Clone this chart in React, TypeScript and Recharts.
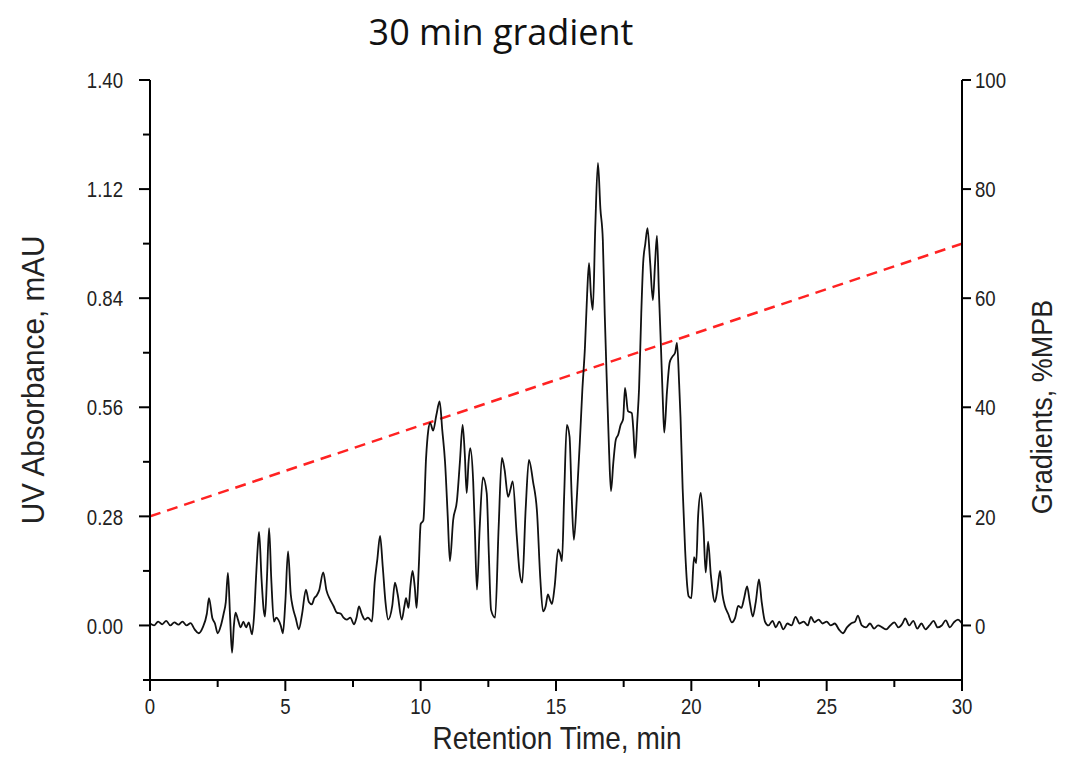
import React from 'react';
import { ComposedChart, Line, XAxis, YAxis } from 'recharts';

// chromatogram (retention time in min, absorbance in mAU)
const uvTime = [
  0.0, 0.15, 0.3, 0.45, 0.6, 0.75, 0.9, 1.05, 1.2, 1.35, 1.5, 1.65, 1.8, 1.95, 2.1, 2.18, 2.3, 2.4, 2.5, 2.62,
  2.72, 2.8, 2.88, 2.96, 3.03, 3.1, 3.16, 3.25, 3.35, 3.45, 3.55, 3.65, 3.77, 3.85, 3.92, 3.98, 4.03, 4.12, 4.2, 4.25,
  4.32, 4.4, 4.48, 4.58, 4.66, 4.74, 4.83, 4.91, 5.0, 5.1, 5.2, 5.28, 5.38, 5.5, 5.62, 5.76, 5.87, 5.98, 6.07, 6.16,
  6.25, 6.4, 6.52, 6.65, 6.78, 6.9, 7.05, 7.15, 7.27, 7.4, 7.54, 7.63, 7.72, 7.82, 7.94, 8.05, 8.2, 8.3, 8.4, 8.5,
  8.6, 8.7, 8.8, 8.95, 9.05, 9.15, 9.3, 9.4, 9.46, 9.55, 9.62, 9.7, 9.78, 9.85, 9.93, 10.0, 10.1, 10.2, 10.28, 10.35,
  10.46, 10.58, 10.7, 10.8, 10.9, 11.0, 11.08, 11.2, 11.34, 11.45, 11.55, 11.63, 11.7, 11.77, 11.83, 11.94, 12.0, 12.08, 12.18, 12.3,
  12.44, 12.52, 12.6, 12.75, 12.88, 13.0, 13.1, 13.23, 13.32, 13.4, 13.55, 13.65, 13.75, 13.88, 14.0, 14.15, 14.3, 14.42, 14.52, 14.62,
  14.7, 14.78, 14.85, 14.95, 15.08, 15.15, 15.22, 15.3, 15.4, 15.5, 15.58, 15.66, 15.78, 15.88, 15.97, 16.07, 16.15, 16.22, 16.29, 16.36,
  16.45, 16.55, 16.64, 16.73, 16.8, 16.88, 16.96, 17.03, 17.12, 17.21, 17.3, 17.39, 17.48, 17.55, 17.66, 17.8, 17.86, 17.92, 18.0, 18.07,
  18.15, 18.22, 18.3, 18.38, 18.48, 18.58, 18.66, 18.73, 18.8, 18.88, 18.95, 19.0, 19.1, 19.2, 19.3, 19.4, 19.47, 19.55, 19.6, 19.68,
  19.77, 19.85, 19.9, 20.0, 20.1, 20.18, 20.25, 20.35, 20.45, 20.53, 20.62, 20.72, 20.87, 20.96, 21.06, 21.15, 21.24, 21.36, 21.5, 21.62,
  21.73, 21.85, 21.95, 22.06, 22.16, 22.27, 22.38, 22.5, 22.6, 22.72, 22.85, 23.0, 23.12, 23.25, 23.4, 23.55, 23.7, 23.85, 24.0, 24.15,
  24.3, 24.42, 24.55, 24.7, 24.85, 25.0, 25.15, 25.3, 25.45, 25.6, 25.75, 25.9, 26.05, 26.15, 26.3, 26.45, 26.6, 26.75, 26.9, 27.05,
  27.2, 27.35, 27.5, 27.65, 27.8, 27.9, 28.05, 28.2, 28.35, 28.5, 28.65, 28.8, 28.95, 29.1, 29.25, 29.4, 29.55, 29.7, 29.85, 30.0,
];
const uvAbs = [
  0.005, 0.0, 0.01, 0.003, 0.012, 0.0, 0.008, 0.002, 0.01, 0.0, 0.006, -0.01, -0.02, -0.005, 0.03, 0.07, 0.02, 0.005, -0.02, 0.0,
  0.03, 0.06, 0.135, 0.02, -0.07, 0.0, 0.033, 0.015, -0.005, 0.01, -0.005, 0.008, -0.023, 0.03, 0.126, 0.2, 0.24, 0.12, 0.04, 0.023,
  0.12, 0.25, 0.12, 0.01, 0.02, 0.015, 0.0, -0.02, 0.06, 0.19, 0.08, 0.045, 0.02, -0.01, 0.03, 0.092, 0.06, 0.054, 0.07, 0.077,
  0.09, 0.136, 0.09, 0.067, 0.05, 0.033, 0.03, 0.02, 0.015, 0.02, 0.003, 0.02, 0.049, 0.03, 0.015, 0.02, 0.01, 0.11, 0.17, 0.23,
  0.15, 0.06, 0.015, 0.05, 0.11, 0.08, 0.015, 0.05, 0.07, 0.045, 0.1, 0.14, 0.1, 0.045, 0.15, 0.26, 0.27, 0.43, 0.5, 0.52,
  0.5, 0.54, 0.575, 0.5, 0.42, 0.28, 0.165, 0.27, 0.32, 0.42, 0.515, 0.44, 0.34, 0.42, 0.455, 0.37, 0.25, 0.092, 0.25, 0.38,
  0.34, 0.18, 0.04, 0.02, 0.25, 0.43, 0.4, 0.33, 0.35, 0.37, 0.23, 0.14, 0.11, 0.3, 0.425, 0.37, 0.29, 0.12, 0.036, 0.05,
  0.08, 0.065, 0.055, 0.1, 0.195, 0.185, 0.165, 0.33, 0.515, 0.485, 0.33, 0.22, 0.34, 0.47, 0.6, 0.715, 0.85, 0.93, 0.85, 0.81,
  1.02, 1.187, 1.07, 0.99, 0.8, 0.62, 0.45, 0.345, 0.42, 0.477, 0.49, 0.515, 0.53, 0.61, 0.55, 0.545, 0.5, 0.43, 0.52, 0.61,
  0.8, 0.93, 0.98, 1.02, 0.93, 0.835, 0.93, 1.0, 0.86, 0.71, 0.57, 0.495, 0.6, 0.675, 0.69, 0.7, 0.725, 0.62, 0.535, 0.35,
  0.195, 0.1, 0.075, 0.07, 0.175, 0.16, 0.28, 0.34, 0.25, 0.136, 0.215, 0.13, 0.06, 0.09, 0.14, 0.08, 0.05, 0.03, 0.008, 0.02,
  0.05, 0.045, 0.07, 0.1, 0.06, 0.023, 0.06, 0.118, 0.06, 0.01, 0.0, 0.012, -0.005, 0.01, -0.01, 0.005, 0.0, 0.022, 0.005, 0.01,
  0.0, 0.022, 0.008, 0.015, 0.005, 0.01, 0.0, 0.005, -0.01, -0.02, -0.005, 0.005, 0.01, 0.025, 0.0, -0.005, 0.005, -0.008, 0.0, -0.005,
  -0.01, 0.0, 0.008, -0.005, 0.005, 0.018, 0.0, 0.012, -0.008, 0.005, -0.01, 0.0, 0.012, -0.005, 0.0, 0.013, -0.005, 0.008, 0.015, 0.005,
];

// linear gradient program (%MPB)
const gradTime = [0, 30];
const gradPct = [20, 70];

const timeTicks = [0, 2.5, 5, 7.5, 10, 12.5, 15, 17.5, 20, 22.5, 25, 27.5, 30];
const uvTicks = [-0.14, 0, 0.14, 0.28, 0.42, 0.56, 0.7, 0.84, 0.98, 1.12, 1.26, 1.4];
const pctTicks = [0, 20, 40, 60, 80, 100];

const uvData = uvTime.map((t, i) => ({ t, uv: uvAbs[i] }));
const gradData = gradTime.map((t, i) => ({ t, pct: gradPct[i] }));

const tickFont = { fontFamily: '"Liberation Sans", Arial, sans-serif', fontSize: 19, fill: '#222' };

// tick text is drawn a little taller than wide, like the source figure
const TickText = ({ x, y, anchor, children }: any) => (
  <text
    transform={`translate(${x},${y}) scale(0.98,1.2)`}
    textAnchor={anchor}
    dominantBaseline="central"
    {...tickFont}
  >
    {children}
  </text>
);

const LeftTick = ({ x, y, payload, index }: any) => {
  const major = index % 2 === 1;
  return (
    <g>
      <line x1={x} x2={x - (major ? 11 : 7)} y1={y} y2={y} stroke="#000" strokeWidth={2} />
      {major && <TickText x={x - 27} y={y} anchor="end">{payload.value.toFixed(2)}</TickText>}
    </g>
  );
};

const RightTick = ({ x, y, payload }: any) => (
  <g>
    <line x1={x} x2={x + 9} y1={y} y2={y} stroke="#000" strokeWidth={2} />
    <TickText x={x + 13} y={y} anchor="start">{payload.value}</TickText>
  </g>
);

const BottomTick = ({ x, y, payload, index }: any) => {
  const major = index % 2 === 0;
  return (
    <g>
      <line x1={x} x2={x} y1={y} y2={y + (major ? 11 : 7)} stroke="#000" strokeWidth={2} />
      {major && <TickText x={x} y={y + 26} anchor="middle">{payload.value}</TickText>}
    </g>
  );
};

const labelFont = { fontFamily: '"Liberation Sans", Arial, sans-serif', color: '#222', whiteSpace: 'nowrap' as const };

export default function App() {
  return (
    <div style={{ position: 'absolute', left: 0, top: 0, width: 1065, height: 770, background: '#fff' }}>
      <div
        style={{
          position: 'absolute', left: 501, top: 31, transform: 'translate(-50%, -50%)',
          fontFamily: '"Open Sans", sans-serif', fontSize: 36, color: '#111', whiteSpace: 'nowrap',
        }}
      >
        30 min gradient
      </div>
      <div style={{ ...labelFont, position: 'absolute', left: 34, top: 380, fontSize: 28, transform: 'translate(-50%, -50%) rotate(-90deg) scale(1.06, 1.1)' }}>
        UV Absorbance, mAU
      </div>
      <div style={{ ...labelFont, position: 'absolute', left: 1043, top: 407, fontSize: 27, transform: 'translate(-50%, -50%) rotate(-90deg) scale(1, 1.1)' }}>
        Gradients, %MPB
      </div>
      <div style={{ ...labelFont, position: 'absolute', left: 557, top: 739, fontSize: 28, lineHeight: '30px', transform: 'translate(-50%, -50%) scale(1, 1.1)' }}>
        Retention Time, min
      </div>
      <ComposedChart width={1065} height={770} margin={{ top: 80, right: 0, bottom: 0, left: 0 }}>
        <XAxis
          dataKey="t"
          type="number"
          domain={[0, 30]}
          ticks={timeTicks}
          interval={0}
          allowDataOverflow
          height={90}
          tickSize={0}
          tickMargin={0}
          tickLine={false}
          axisLine={{ stroke: '#000', strokeWidth: 2 }}
          tick={<BottomTick />}
        />
        <YAxis
          yAxisId="uv"
          orientation="left"
          type="number"
          domain={[-0.14, 1.4]}
          ticks={uvTicks}
          interval={0}
          allowDataOverflow
          width={150}
          tickSize={0}
          tickMargin={0}
          tickLine={false}
          axisLine={{ stroke: '#000', strokeWidth: 2 }}
          tick={<LeftTick />}
        />
        <YAxis
          yAxisId="pct"
          orientation="right"
          type="number"
          domain={[-10, 100]}
          ticks={pctTicks}
          interval={0}
          allowDataOverflow
          width={103}
          tickSize={0}
          tickMargin={0}
          tickLine={false}
          axisLine={{ stroke: '#000', strokeWidth: 2 }}
          tick={<RightTick />}
        />
        <Line
          yAxisId="pct"
          data={gradData}
          dataKey="pct"
          type="linear"
          stroke="#f22"
          strokeWidth={2.5}
          strokeDasharray="11 7"
          dot={false}
          isAnimationActive={false}
        />
        <Line
          yAxisId="uv"
          data={uvData}
          dataKey="uv"
          type="monotone"
          stroke="#111"
          strokeWidth={1.8}
          dot={false}
          isAnimationActive={false}
        />
      </ComposedChart>
    </div>
  );
}
